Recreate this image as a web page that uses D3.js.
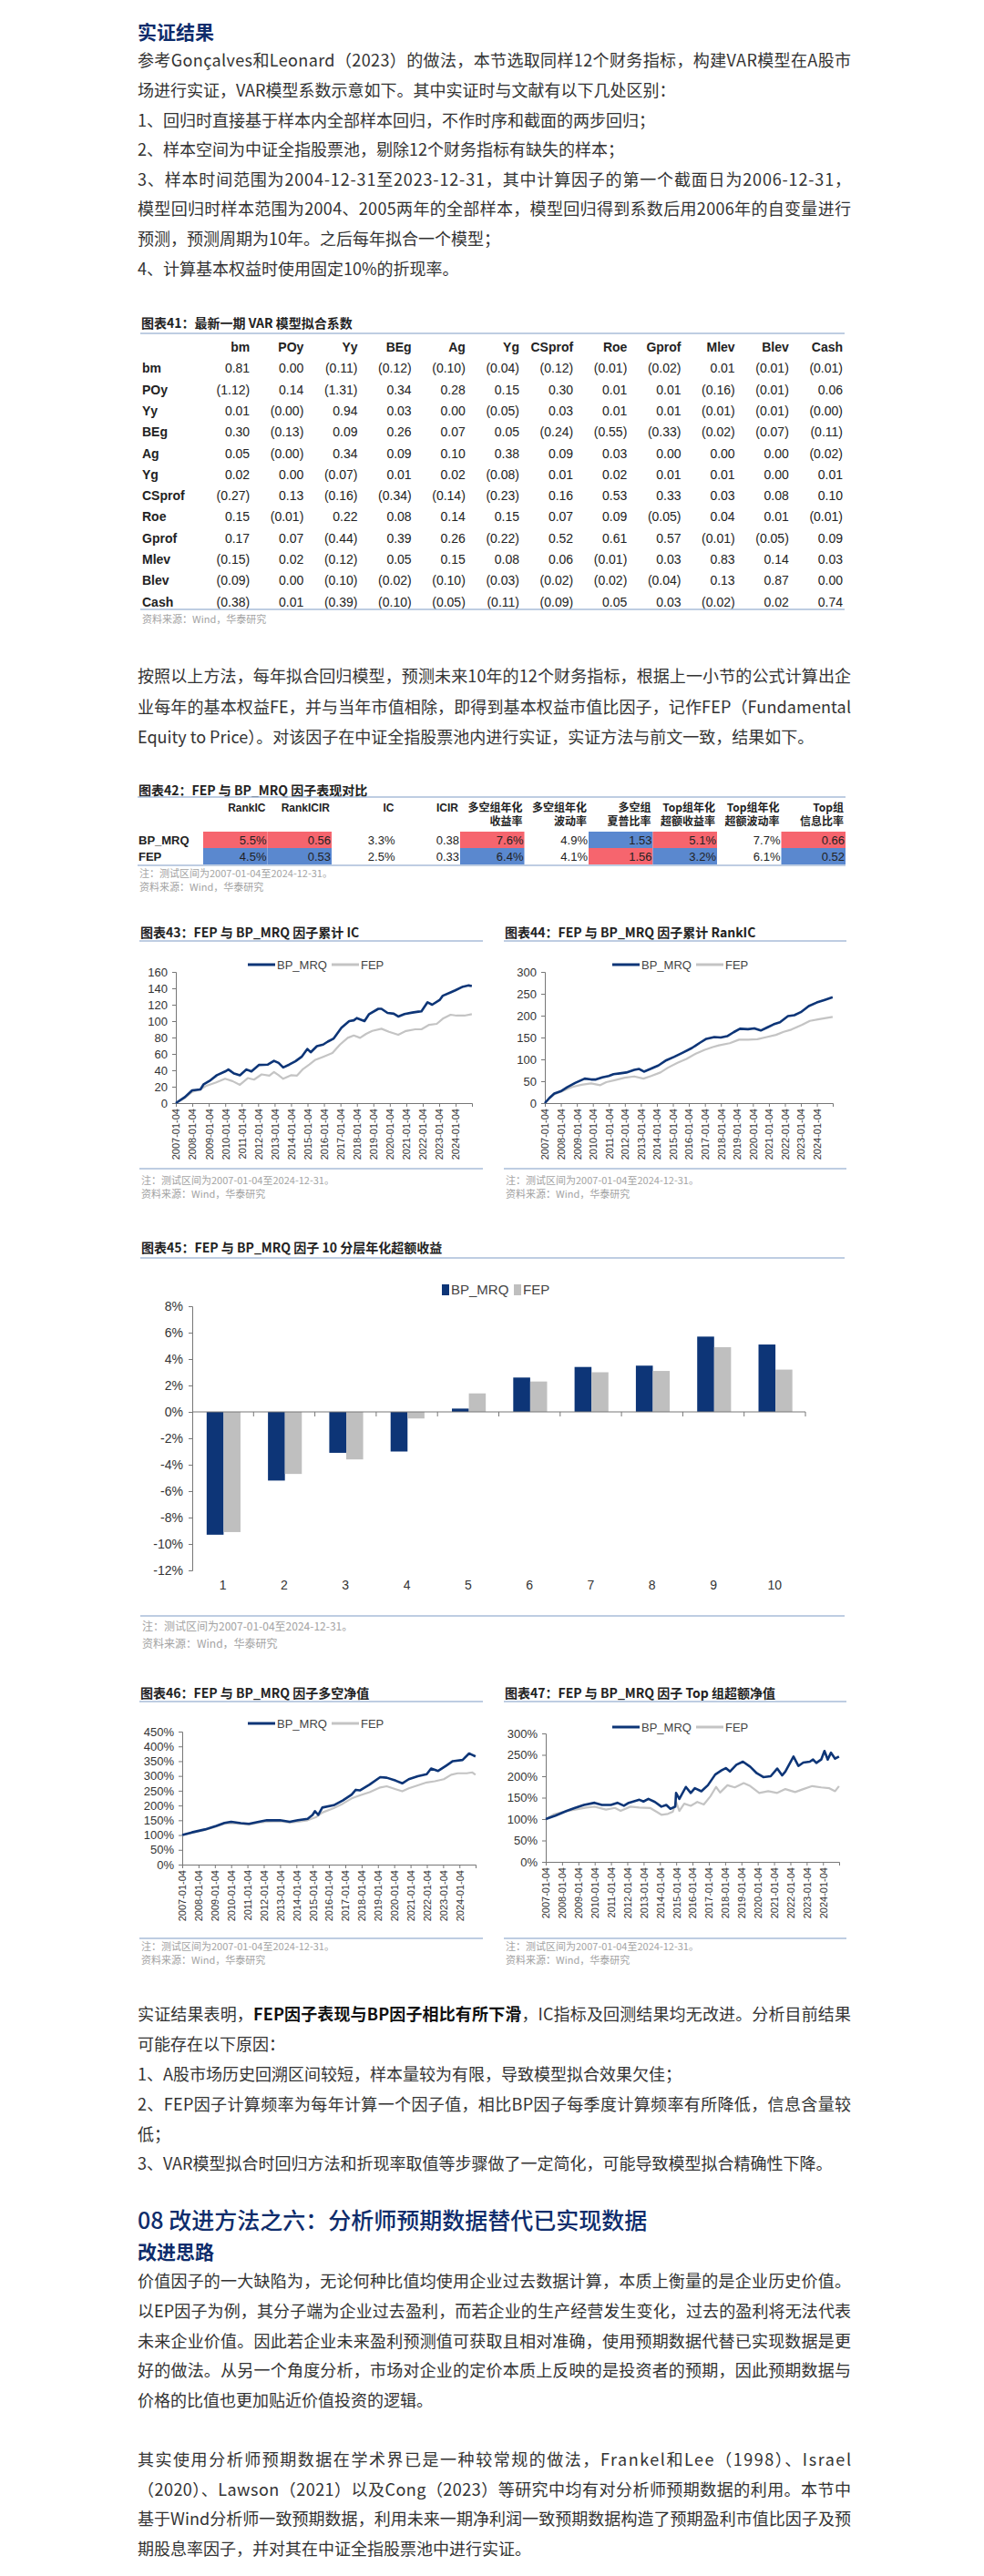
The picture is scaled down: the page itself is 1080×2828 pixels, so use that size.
<!DOCTYPE html>
<html><head><meta charset="utf-8">
<script src="https://cdn.jsdelivr.net/npm/d3@7"></script>
<style>
html,body{margin:0;padding:0;background:#fff;}
svg{display:block;}
</style></head><body>
<svg id="page" width="1080" height="2828"></svg>
<script>
// ---------------- DATA ----------------
const varVars = ["bm","POy","Yy","BEg","Ag","Yg","CSprof","Roe","Gprof","Mlev","Blev","Cash"];
const coef_bm     = ["0.81","0.00","(0.11)","(0.12)","(0.10)","(0.04)","(0.12)","(0.01)","(0.02)","0.01","(0.01)","(0.01)"];
const coef_POy    = ["(1.12)","0.14","(1.31)","0.34","0.28","0.15","0.30","0.01","0.01","(0.16)","(0.01)","0.06"];
const coef_Yy     = ["0.01","(0.00)","0.94","0.03","0.00","(0.05)","0.03","0.01","0.01","(0.01)","(0.01)","(0.00)"];
const coef_BEg    = ["0.30","(0.13)","0.09","0.26","0.07","0.05","(0.24)","(0.55)","(0.33)","(0.02)","(0.07)","(0.11)"];
const coef_Ag     = ["0.05","(0.00)","0.34","0.09","0.10","0.38","0.09","0.03","0.00","0.00","0.00","(0.02)"];
const coef_Yg     = ["0.02","0.00","(0.07)","0.01","0.02","(0.08)","0.01","0.02","0.01","0.01","0.00","0.01"];
const coef_CSprof = ["(0.27)","0.13","(0.16)","(0.34)","(0.14)","(0.23)","0.16","0.53","0.33","0.03","0.08","0.10"];
const coef_Roe    = ["0.15","(0.01)","0.22","0.08","0.14","0.15","0.07","0.09","(0.05)","0.04","0.01","(0.01)"];
const coef_Gprof  = ["0.17","0.07","(0.44)","0.39","0.26","(0.22)","0.52","0.61","0.57","(0.01)","(0.05)","0.09"];
const coef_Mlev   = ["(0.15)","0.02","(0.12)","0.05","0.15","0.08","0.06","(0.01)","0.03","0.83","0.14","0.03"];
const coef_Blev   = ["(0.09)","0.00","(0.10)","(0.02)","(0.10)","(0.03)","(0.02)","(0.02)","(0.04)","0.13","0.87","0.00"];
const coef_Cash   = ["(0.38)","0.01","(0.39)","(0.10)","(0.05)","(0.11)","(0.09)","0.05","0.03","(0.02)","0.02","0.74"];
const coefRows = [coef_bm,coef_POy,coef_Yy,coef_BEg,coef_Ag,coef_Yg,coef_CSprof,coef_Roe,coef_Gprof,coef_Mlev,coef_Blev,coef_Cash];

const perfMetrics = ["RankIC","RankICIR","IC","ICIR","多空组年化|收益率","多空组年化|波动率","多空组|夏普比率","Top组年化|超额收益率","Top组年化|超额波动率","Top组|信息比率"];
const perfFactors = ["BP_MRQ","FEP"];
const perfBP  = [5.5,0.56,3.3,0.38,7.6,4.9,1.53,5.1,7.7,0.66];
const perfFEP = [4.5,0.53,2.5,0.33,6.4,4.1,1.56,3.2,6.1,0.52];
const perfIsPct = [true,false,true,false,true,true,false,true,true,false];
const perfColored = [0,1,4,6,7,9];

const yearTicks = d3.range(2007, 2025);

const icBP = [[2007.0,0],[2007.56,7.4],[2008.0,15.6],[2008.5,16.7],[2008.7,23],[2009.05,27],[2009.5,34],[2010.0,38.6],[2010.2,41],[2010.55,36],[2010.9,34],[2011.3,41],[2011.6,38.6],[2012.05,46.5],[2012.6,47],[2012.97,51.6],[2013.25,49],[2013.53,43.5],[2013.9,47],[2014.27,51],[2014.65,56.5],[2015.0,66],[2015.2,62],[2015.58,69.5],[2015.96,71.4],[2016.24,75],[2016.6,78.8],[2017.07,92],[2017.54,100],[2017.82,101],[2018.0,103.7],[2018.47,100],[2018.75,108.6],[2019.31,115],[2019.5,115],[2019.87,110],[2020.25,109],[2020.52,105.6],[2020.9,108.6],[2021.37,110.4],[2021.74,111.5],[2021.93,112],[2022.3,123],[2022.58,120],[2023.05,126],[2023.23,131],[2023.7,135],[2023.98,137.5],[2024.45,142],[2024.8,143.5],[2024.99,142.8]];
const icFEP = [[2007.0,0],[2007.56,6.3],[2008.0,13.8],[2008.5,16.7],[2008.87,21.2],[2009.43,25],[2010.0,29.7],[2010.45,26.8],[2010.9,22.3],[2011.38,30.5],[2011.76,28.6],[2012.22,35],[2012.69,33.5],[2012.97,38],[2013.25,34],[2013.53,29.7],[2014.0,34],[2014.37,33.5],[2014.74,41.6],[2015.12,47],[2015.49,52.8],[2015.96,56.5],[2016.52,61],[2016.98,71.4],[2017.45,79.6],[2017.82,82.5],[2018.2,79.6],[2018.57,84.4],[2018.94,88],[2019.5,90.7],[2019.96,87],[2020.52,83.3],[2020.99,88],[2021.55,90],[2021.93,90],[2022.4,95.5],[2022.86,96.7],[2023.23,103],[2023.7,107.8],[2024.07,106.7],[2024.54,106.7],[2024.99,108.5]];

const rankBP = [[2007.0,0],[2007.3,12],[2007.6,22],[2008.0,27],[2008.4,36],[2008.9,46],[2009.5,56],[2009.9,54],[2010.2,54],[2010.6,59],[2011.0,62],[2011.3,66],[2011.7,68],[2012.1,70],[2012.6,76],[2012.9,78],[2013.2,72],[2013.6,78],[2014.1,86],[2014.6,98],[2015.1,106],[2015.6,115],[2016.2,126],[2016.7,138],[2017.1,147],[2017.6,151],[2018.0,150],[2018.4,153],[2018.8,162],[2019.2,170],[2019.7,169],[2020.1,171],[2020.5,166],[2020.9,173],[2021.3,180],[2021.7,185],[2022.2,199],[2022.6,201],[2023.0,208],[2023.5,222],[2024.0,230],[2024.5,236],[2024.99,242]];
const rankFEP = [[2007.0,0],[2007.58,20],[2008.15,28],[2008.73,37],[2009.3,42],[2009.9,45],[2010.47,41],[2010.85,48],[2011.43,53],[2012.0,58],[2012.59,61],[2013.17,56],[2013.65,62],[2014.23,70],[2014.7,81],[2015.3,92],[2015.86,101],[2016.44,113],[2017.0,122],[2017.5,128],[2017.88,132],[2018.56,137],[2019.14,145],[2019.72,145],[2020.29,146],[2020.87,151],[2021.45,156],[2021.93,163],[2022.41,168],[2023.09,179],[2023.57,188],[2024.15,192],[2024.99,197]];

const lsBP = [[2007.0,100],[2007.6,109],[2008.4,119],[2009.1,131],[2009.6,141],[2010.0,145],[2010.6,140],[2011.1,138],[2011.7,145],[2012.2,150],[2013.0,150],[2013.6,145],[2014.1,150],[2014.7,155],[2015.0,168],[2015.15,181],[2015.35,168],[2015.6,193],[2016.3,201],[2016.85,217],[2017.4,237],[2017.65,253],[2017.9,251],[2018.5,271],[2019.15,296],[2019.55,294],[2020.1,284],[2020.5,275],[2020.9,289],[2021.45,299],[2022.0,306],[2022.27,325],[2022.7,317],[2023.2,335],[2023.6,350],[2024.2,354],[2024.6,376],[2024.8,371],[2024.99,366]];
const lsFEP = [[2007.0,100],[2007.6,107],[2008.4,117],[2009.1,129],[2009.6,139],[2010.0,140],[2010.6,138],[2011.1,135],[2011.7,142],[2012.2,145],[2013.0,147],[2013.6,142],[2014.1,145],[2014.7,150],[2015.2,160],[2015.6,176],[2016.3,191],[2016.85,206],[2017.4,224],[2017.9,234],[2018.5,245],[2019.15,261],[2019.55,265],[2020.1,255],[2020.5,248],[2020.9,258],[2021.45,268],[2022.0,278],[2022.5,282],[2023.05,289],[2023.5,304],[2023.9,309],[2024.45,309],[2024.8,312],[2024.99,304]];

const topBP = [[2007.0,100],[2007.6,108],[2008.3,119],[2008.8,126],[2009.35,133],[2010.0,138],[2010.45,133],[2011.0,133],[2011.4,138],[2011.8,131],[2012.1,138],[2012.75,145],[2013.0,141],[2013.3,147],[2013.7,140],[2014.1,129],[2014.4,133],[2014.65,124],[2014.95,129],[2015.0,161],[2015.2,147],[2015.6,175],[2015.9,161],[2016.15,172],[2016.55,165],[2016.95,179],[2017.4,204],[2017.8,214],[2018.05,219],[2018.3,211],[2018.7,227],[2019.1,234],[2019.55,222],[2019.95,207],[2020.35,198],[2020.8,200],[2021.2,218],[2021.5,202],[2021.7,211],[2022.2,246],[2022.5,224],[2022.8,232],[2023.2,234],[2023.4,239],[2023.6,231],[2023.9,239],[2024.1,259],[2024.3,239],[2024.5,255],[2024.75,241],[2024.99,246]];
const topFEP = [[2007.0,100],[2007.5,111],[2008.1,117],[2008.8,122],[2009.5,127],[2010.0,129],[2010.7,122],[2011.25,126],[2011.6,119],[2012.2,129],[2012.75,127],[2013.4,126],[2013.8,117],[2014.1,110],[2014.5,112],[2014.8,117],[2015.0,140],[2015.2,119],[2015.5,136],[2015.9,131],[2016.3,140],[2016.7,134],[2017.1,153],[2017.45,175],[2017.7,162],[2018.15,179],[2018.6,174],[2019.15,184],[2019.55,177],[2020.1,161],[2020.65,165],[2021.2,161],[2021.7,170],[2022.3,163],[2022.8,170],[2023.35,177],[2023.9,174],[2024.4,172],[2024.75,165],[2024.99,177]];

const groups = ["1","2","3","4","5","6","7","8","9","10"];
const groupBP  = [-9.3,-5.2,-3.1,-3.0,0.25,2.6,3.4,3.5,5.7,5.1];
const groupFEP = [-9.1,-4.7,-3.6,-0.5,1.4,2.3,3.0,3.1,4.9,3.2];

// ---------------- TEXT ----------------
const textTop = [
  "参考Gonçalves和Leonard（2023）的做法，本节选取同样12个财务指标，构建VAR模型在A股市|J",
  "场进行实证，VAR模型系数示意如下。其中实证时与文献有以下几处区别：",
  "1、回归时直接基于样本内全部样本回归，不作时序和截面的两步回归；",
  "2、样本空间为中证全指股票池，剔除12个财务指标有缺失的样本；",
  "3、样本时间范围为2004-12-31至2023-12-31，其中计算因子的第一个截面日为2006-12-31，|J",
  "模型回归时样本范围为2004、2005两年的全部样本，模型回归得到系数后用2006年的自变量进行|J",
  "预测，预测周期为10年。之后每年拟合一个模型；",
  "4、计算基本权益时使用固定10%的折现率。"
];
const textMid = [
  "按照以上方法，每年拟合回归模型，预测未来10年的12个财务指标，根据上一小节的公式计算出企|J",
  "业每年的基本权益FE，并与当年市值相除，即得到基本权益市值比因子，记作FEP（Fundamental|J",
  "Equity to Price）。对该因子在中证全指股票池内进行实证，实证方法与前文一致，结果如下。"
];
const textBot = [
  "实证结果表明，**FEP因子表现与BP因子相比有所下滑**，IC指标及回测结果均无改进。分析目前结果|J",
  "可能存在以下原因：",
  "1、A股市场历史回溯区间较短，样本量较为有限，导致模型拟合效果欠佳；",
  "2、FEP因子计算频率为每年计算一个因子值，相比BP因子每季度计算频率有所降低，信息含量较|J",
  "低；",
  "3、VAR模型拟合时回归方法和折现率取值等步骤做了一定简化，可能导致模型拟合精确性下降。"
];
const textEnd = [
  "价值因子的一大缺陷为，无论何种比值均使用企业过去数据计算，本质上衡量的是企业历史价值。|J",
  "以EP因子为例，其分子端为企业过去盈利，而若企业的生产经营发生变化，过去的盈利将无法代表|J",
  "未来企业价值。因此若企业未来盈利预测值可获取且相对准确，使用预期数据代替已实现数据是更|J",
  "好的做法。从另一个角度分析，市场对企业的定价本质上反映的是投资者的预期，因此预期数据与|J",
  "价格的比值也更加贴近价值投资的逻辑。",
  "",
  "其实使用分析师预期数据在学术界已是一种较常规的做法，Frankel和Lee（1998）、Israel|J",
  "（2020）、Lawson（2021）以及Cong（2023）等研究中均有对分析师预期数据的利用。本节中|J",
  "基于Wind分析师一致预期数据，利用未来一期净利润一致预期数据构造了预期盈利市值比因子及预|J",
  "期股息率因子，并对其在中证全指股票池中进行实证。"
];

// ---------------- STYLE ----------------
const CJK = "'Noto Sans CJK SC','Noto Sans',sans-serif";
const NARROW = "'Liberation Sans Narrow','Arial Narrow','Liberation Sans',Arial,sans-serif";
const NAVY = "#0E2C6B";
const TXT = "#333333";
const RULE = "#A9BCD9";
const NOTE = "#A3A3A3";
const BPC = "#0D3577";
const FEPC = "#C4C4C4";
const RED = "#F6656E";
const BLUE = "#5A88CF";
const LEFT = 151, RIGHT = 934;

const svg = d3.select("#page");
svg.append("rect").attr("width",1080).attr("height",2828).attr("fill","#fff");

function para(lines, y0, step) {
  lines.forEach((ln, i) => {
    if (!ln) return;
    let just = false, s = ln;
    if (s.endsWith("|J")) { just = true; s = s.slice(0, -2); }
    const t = svg.append("text").attr("x", LEFT).attr("y", y0 + i*step).attr("dy","0.36em")
      .attr("font-family", CJK).attr("font-size", 18).attr("fill", TXT);
    const parts = s.split("**");
    parts.forEach((p, k) => {
      if (!p) return;
      t.append("tspan").text(p).attr("font-weight", k % 2 ? 700 : 400).attr("fill", k % 2 ? "#111" : TXT);
    });
    if (just) t.attr("textLength", RIGHT - LEFT).attr("lengthAdjust", "spacing");
  });
}
function heading(txt, y, size, weight) {
  svg.append("text").attr("x", LEFT).attr("y", y).attr("dy","0.36em").text(txt)
    .attr("font-family", CJK).attr("font-size", size).attr("font-weight", weight).attr("fill", NAVY);
}
function figTitle(txt, x0, x1, y, ruleY) {
  svg.append("text").attr("x", x0+1).attr("y", y).attr("dy","0.36em").text(txt)
    .attr("font-family", CJK).attr("font-size", 14).attr("font-weight", 700).attr("fill", "#222");
  svg.append("line").attr("x1", x0).attr("x2", x1).attr("y1", ruleY).attr("y2", ruleY)
    .attr("stroke", RULE).attr("stroke-width", 1.6);
}
function note(txt, x, y, size) {
  svg.append("text").attr("x", x).attr("y", y).attr("dy","0.36em").text(txt)
    .attr("font-family", CJK).attr("font-size", size || 11).attr("fill", NOTE);
}
function rule(x0, x1, y) {
  svg.append("line").attr("x1", x0).attr("x2", x1).attr("y1", y).attr("y2", y)
    .attr("stroke", RULE).attr("stroke-width", 1.6);
}

// ---------------- TEXT BLOCKS ----------------
heading("实证结果", 35, 21, 700);
para(textTop, 67, 32.6);
para(textMid, 743, 33.3);
para(textBot, 2212, 32.8);
heading("08 改进方法之六：分析师预期数据替代已实现数据", 2438, 25, 500);
heading("改进思路", 2472, 21, 700);
para(textEnd, 2505, 32.6);

// ---------------- TABLE 41 ----------------
(function(){
  const x0 = 154, x1 = 927;
  figTitle("图表41：最新一期 VAR 模型拟合系数", x0, x1, 355, 366);
  const col = d3.scaleBand().domain(varVars).range([215, 925]);
  const row = d3.scaleBand().domain(["__h"].concat(varVars)).range([369.5, 672.4]);
  const g = svg.append("g").attr("font-family", NARROW).attr("font-size", 14).attr("fill", "#222");
  g.selectAll(".hc").data(varVars).join("text")
    .attr("x", d => col(d) + col.bandwidth()).attr("y", row("__h") + row.bandwidth()/2).attr("dy","0.35em")
    .attr("text-anchor","end").attr("font-weight",700).text(d => d);
  g.selectAll(".rl").data(varVars).join("text")
    .attr("x", x0 + 2).attr("y", d => row(d) + row.bandwidth()/2).attr("dy","0.35em")
    .attr("font-weight",700).text(d => d);
  coefRows.forEach((vals, ri) => {
    g.selectAll(null).data(vals).join("text")
      .attr("x", (d, ci) => col(varVars[ci]) + col.bandwidth())
      .attr("y", row(varVars[ri]) + row.bandwidth()/2).attr("dy","0.35em")
      .attr("text-anchor","end").text(d => d);
  });
  rule(x0, x1, 669);
  note("资料来源：Wind，华泰研究", x0 + 2, 680, 11);
})();

// ---------------- TABLE 42 ----------------
(function(){
  const x0 = 151, x1 = 928;
  figTitle("图表42：FEP 与 BP_MRQ 因子表现对比", x0, x1, 868, 875);
  const col = d3.scaleBand().domain(perfMetrics).range([223, 928]);
  const row = d3.scaleBand().domain(perfFactors).range([913, 949]);
  const g = svg.append("g");
  // headers
  perfMetrics.forEach(m => {
    const parts = m.split("|");
    parts.forEach((p, k) => {
      g.append("text").attr("x", col(m) + col.bandwidth() - 2).attr("y", 887 + k*15).attr("dy","0.36em")
        .attr("text-anchor","end").attr("font-size", 12).attr("font-weight",700)
        .attr("font-family", /[A-Za-z]/.test(p) && !/[\u4e00-\u9fff]/.test(p) ? NARROW : CJK)
        .attr("fill","#222").text(p);
    });
  });
  const vals = [perfBP, perfFEP];
  perfFactors.forEach((f, fi) => {
    g.append("text").attr("x", x0 + 1).attr("y", row(f) + row.bandwidth()/2).attr("dy","0.35em")
      .attr("font-family", NARROW).attr("font-size", 13).attr("font-weight",700).attr("fill","#222").text(f);
    perfMetrics.forEach((m, mi) => {
      const v = vals[fi][mi], other = vals[1-fi][mi];
      if (perfColored.includes(mi)) {
        g.append("rect").attr("x", col(m)).attr("y", row(f)).attr("width", col.bandwidth()).attr("height", row.bandwidth())
          .attr("fill", v >= other ? RED : BLUE);
      }
      g.append("text").attr("x", col(m) + col.bandwidth() - 1).attr("y", row(f) + row.bandwidth()/2).attr("dy","0.35em")
        .attr("text-anchor","end").attr("font-family", NARROW).attr("font-size", 13).attr("fill","#222")
        .text(perfIsPct[mi] ? v.toFixed(1) + "%" : v.toFixed(2));
    });
  });
  rule(x0, x1, 950);
  note("注：测试区间为2007-01-04至2024-12-31。", x0 + 2, 959, 11);
  note("资料来源：Wind，华泰研究", x0 + 2, 974, 11);
})();

// ---------------- LINE CHARTS ----------------
const yearMs = y => new Date(y, 0, 1).getTime();
const toDate = t => { const y = Math.floor(t); return new Date(yearMs(y) + (t - y) * (yearMs(y+1) - yearMs(y))); };

function lineChart(o) {
  const x = d3.scaleTime().domain([new Date(2007,0,4), new Date(2024,11,31)]).range([o.x0, o.x1]).clamp(true);
  const y = d3.scaleLinear().domain(o.yDomain).range([o.yBot, o.yTop]);
  const g = svg.append("g");
  // axes
  const xa = g.append("g").attr("transform", `translate(0,${o.yBot})`)
    .call(d3.axisBottom(x).tickValues(yearTicks.map(v => new Date(v,0,4))).tickSize(4).tickFormat(d3.timeFormat("%Y-%m-%d")));
  xa.selectAll("text").attr("transform","rotate(-90)").attr("x",-6).attr("y",0).attr("dy","0.35em")
    .style("text-anchor","end").attr("font-family", NARROW).attr("font-size", 11).attr("fill","#333");
  const ya = g.append("g").attr("transform", `translate(${o.x0},0)`)
    .call(d3.axisLeft(y).tickValues(o.yTicks).tickSize(4).tickPadding(5).tickFormat(o.yFmt));
  ya.selectAll("text").attr("font-family", NARROW).attr("font-size", 13).attr("fill","#333");
  [xa, ya].forEach(a => { a.selectAll("path,line").attr("stroke","#777"); });
  // series
  const line = d3.line().x(d => x(toDate(d[0]))).y(d => y(d[1]));
  g.append("path").datum(o.fep).attr("d", line).attr("fill","none").attr("stroke", FEPC).attr("stroke-width", 2.2).attr("stroke-linejoin","round");
  g.append("path").datum(o.bp).attr("d", line).attr("fill","none").attr("stroke", BPC).attr("stroke-width", 2.6).attr("stroke-linejoin","round");
  // legend
  const lg = g.append("g").attr("transform", `translate(${o.lx},${o.ly})`).attr("font-family", NARROW).attr("font-size", 13).attr("fill","#444");
  lg.append("line").attr("x1",0).attr("x2",30).attr("stroke", BPC).attr("stroke-width",3);
  lg.append("text").attr("x",32).attr("dy","0.35em").text("BP_MRQ");
  lg.append("line").attr("x1",92).attr("x2",122).attr("stroke", FEPC).attr("stroke-width",3);
  lg.append("text").attr("x",124).attr("dy","0.35em").text("FEP");
}

figTitle("图表43：FEP 与 BP_MRQ 因子累计 IC", 153, 530, 1024, 1033);
figTitle("图表44：FEP 与 BP_MRQ 因子累计 RankIC", 553, 929, 1024, 1033);
lineChart({x0:193, x1:518, yTop:1067, yBot:1211, yDomain:[0,160], yTicks:d3.range(0,161,20), yFmt:d=>d,
  bp:icBP, fep:icFEP, lx:272, ly:1059});
lineChart({x0:598, x1:914, yTop:1067, yBot:1211, yDomain:[0,300], yTicks:d3.range(0,301,50), yFmt:d=>d,
  bp:rankBP, fep:rankFEP, lx:672, ly:1059});
rule(153, 530, 1283); rule(553, 929, 1283);
note("注：测试区间为2007-01-04至2024-12-31。", 155, 1296, 11);
note("资料来源：Wind，华泰研究", 155, 1311, 11);
note("注：测试区间为2007-01-04至2024-12-31。", 555, 1296, 11);
note("资料来源：Wind，华泰研究", 555, 1311, 11);

figTitle("图表46：FEP 与 BP_MRQ 因子多空净值", 153, 530, 1859, 1868);
figTitle("图表47：FEP 与 BP_MRQ 因子 Top 组超额净值", 553, 929, 1859, 1868);
lineChart({x0:200, x1:522, yTop:1901, yBot:2047, yDomain:[0,450], yTicks:d3.range(0,451,50), yFmt:d=>d+"%",
  bp:lsBP, fep:lsFEP, lx:272, ly:1892});
lineChart({x0:599, x1:921, yTop:1903, yBot:2044, yDomain:[0,300], yTicks:d3.range(0,301,50), yFmt:d=>d+"%",
  bp:topBP, fep:topFEP, lx:672, ly:1896});
rule(153, 530, 2128); rule(553, 929, 2128);
note("注：测试区间为2007-01-04至2024-12-31。", 155, 2137, 11);
note("资料来源：Wind，华泰研究", 155, 2152, 11);
note("注：测试区间为2007-01-04至2024-12-31。", 555, 2137, 11);
note("资料来源：Wind，华泰研究", 555, 2152, 11);

// ---------------- BAR CHART 45 ----------------
(function(){
  figTitle("图表45：FEP 与 BP_MRQ 因子 10 分层年化超额收益", 154, 927, 1370, 1381);
  const x = d3.scaleBand().domain(groups).range([211, 884]);
  const xs = d3.scaleBand().domain(["BP_MRQ","FEP"]).range([x.bandwidth()*0.235, x.bandwidth()*0.787]);
  const y = d3.scaleLinear().domain([-12, 8]).range([1724, 1434]);
  const g = svg.append("g");
  const series = [{k:"BP_MRQ", v:groupBP, c:BPC}, {k:"FEP", v:groupFEP, c:"#BFBFBF"}];
  series.forEach(s => {
    g.selectAll(null).data(groups).join("rect")
      .attr("x", (d,i) => x(d) + xs(s.k)).attr("width", xs.bandwidth())
      .attr("y", (d,i) => y(Math.max(0, s.v[i]))).attr("height", (d,i) => Math.abs(y(s.v[i]) - y(0)))
      .attr("fill", s.c);
  });
  const ya = g.append("g").attr("transform","translate(211,0)")
    .call(d3.axisLeft(y).tickValues(d3.range(-12, 9, 2)).tickSize(4).tickPadding(6).tickFormat(d => d + "%"));
  ya.selectAll("text").attr("font-family", NARROW).attr("font-size", 14).attr("fill","#333");
  ya.selectAll("path,line").attr("stroke","#777");
  // zero axis with boundary ticks
  g.append("line").attr("x1",211).attr("x2",884).attr("y1",y(0)).attr("y2",y(0)).attr("stroke","#777");
  g.selectAll(".bt").data(groups).join("line")
    .attr("x1", d => x(d) + x.bandwidth()).attr("x2", d => x(d) + x.bandwidth())
    .attr("y1", y(0)).attr("y2", y(0) + 5).attr("stroke","#777");
  g.selectAll(".cl").data(groups).join("text")
    .attr("x", d => x(d) + x.bandwidth()/2).attr("y", 1740).attr("dy","0.35em").attr("text-anchor","middle")
    .attr("font-family", NARROW).attr("font-size", 14).attr("fill","#333").text(d => d);
  // legend
  const lg = g.append("g").attr("font-family", NARROW).attr("font-size", 15).attr("fill","#444");
  lg.append("rect").attr("x",485).attr("y",1410).attr("width",8).attr("height",12).attr("fill",BPC);
  lg.append("text").attr("x",495).attr("y",1416).attr("dy","0.35em").text("BP_MRQ");
  lg.append("rect").attr("x",564).attr("y",1410).attr("width",8).attr("height",12).attr("fill","#BFBFBF");
  lg.append("text").attr("x",574).attr("y",1416).attr("dy","0.35em").text("FEP");
  rule(154, 927, 1774);
  note("注：测试区间为2007-01-04至2024-12-31。", 156, 1786, 12);
  note("资料来源：Wind，华泰研究", 156, 1805, 12);
})();
</script>
</body></html>
